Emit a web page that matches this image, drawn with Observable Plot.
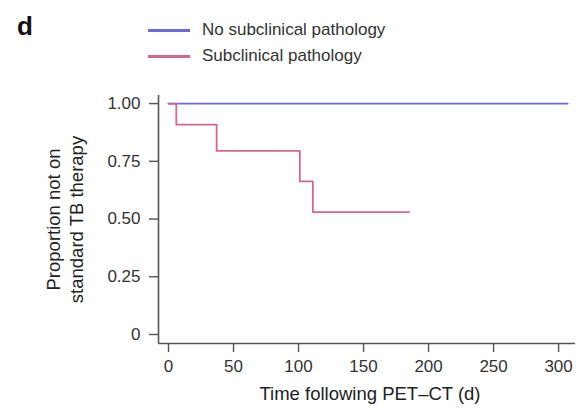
<!DOCTYPE html>
<html>
<head>
<meta charset="utf-8">
<script src="https://cdn.jsdelivr.net/npm/d3@7"></script>
<script src="https://cdn.jsdelivr.net/npm/@observablehq/plot@0.6"></script>
<style>
  body { margin: 0; background: #fff; font-family: "Liberation Sans", Arial, sans-serif; }
  #wrap { position: relative; width: 577px; height: 410px; overflow: hidden; }
  #head { position: relative; height: 88px; }
  #panel { position: absolute; left: 17px; top: 11px; font-size: 26px; font-weight: bold; color: #111; }
  .key { position: absolute; left: 148px; display: flex; align-items: center; font-size: 17px; color: #333; }
  .swatch { display: inline-block; width: 42px; height: 3px; margin-right: 12px; }
  #chart svg { display: block; }
</style>
</head>
<body>
<div id="wrap">
  <div id="head">
    <div id="panel">d</div>
    <div class="key" style="top:20px"><span class="swatch" id="sw0"></span><span id="lab0"></span></div>
    <div class="key" style="top:46px"><span class="swatch" id="sw1"></span><span id="lab1"></span></div>
  </div>
  <div id="chart"></div>
</div>
<script>
// Kaplan–Meier curves: proportion of participants not on standard TB therapy
const groups = ["No subclinical pathology", "Subclinical pathology"];
const groupColors = ["#6a6ade", "#d4688a"];

const noPathologyDays = [0, 307];
const noPathologySurv = [1, 1];

const pathologyDays = [0, 6, 37, 101, 111, 185];
const pathologySurv = [1, 0.909, 0.795, 0.663, 0.53, 0.53];

const xTicks = [0, 50, 100, 150, 200, 250, 300];
const yTicks = [0, 0.25, 0.5, 0.75, 1];
const yTickLabels = ["0", "0.25", "0.50", "0.75", "1.00"];

const xLabel = "Time following PET–CT (d)";
const yLabel = "Proportion not on\nstandard TB therapy";

const curves = [
  ...noPathologyDays.map((t, i) => ({group: groups[0], t, s: noPathologySurv[i]})),
  ...pathologyDays.map((t, i) => ({group: groups[1], t, s: pathologySurv[i]}))
];

// axes sit slightly outside the data range
const xMin = -7.7, xMax = 313;
const yMin = -0.039, yMax = 1.035;
const axisColor = "#555";

groups.forEach((g, i) => {
  document.getElementById("lab" + i).textContent = g;
  document.getElementById("sw" + i).style.background = groupColors[i];
});

const chart = Plot.plot({
  width: 577,
  height: 322,
  marginLeft: 158,
  marginRight: 2,
  marginTop: 7,
  marginBottom: 67,
  style: {fontFamily: "Liberation Sans, Arial, sans-serif", fontSize: "17px", color: "#333", background: "#fff"},
  x: {domain: [xMin, xMax]},
  y: {domain: [yMin, yMax]},
  color: {domain: groups, range: groupColors},
  marks: [
    Plot.ruleX([xMin], {y1: yMin, y2: yMax, stroke: axisColor, strokeWidth: 1.6}),
    Plot.ruleY([yMin], {x1: xMin, x2: xMax, stroke: axisColor, strokeWidth: 1.6}),
    Plot.axisX(xTicks, {anchor: "bottom", tickSize: 9, tickPadding: 7, stroke: axisColor, strokeWidth: 1.4, fill: "#333", label: null, tickFormat: d => String(d)}),
    Plot.axisY(yTicks, {anchor: "left", tickSize: 9, tickPadding: 9, stroke: axisColor, strokeWidth: 1.4, fill: "#333", label: null, tickFormat: d => yTickLabels[yTicks.indexOf(d)]}),
    Plot.line(curves, {x: "t", y: "s", z: "group", stroke: "group", strokeWidth: 1.8, curve: "step-after"}),
    Plot.text([xLabel], {frameAnchor: "bottom", dx: 3, dy: 56, fontSize: 18.5, fill: "#222"}),
    Plot.text([yLabel], {frameAnchor: "left", textAnchor: "middle", lineAnchor: "middle", dx: -94.5, dy: 0, rotate: -90, fontSize: 18.5, lineHeight: 1.24, fill: "#222"})
  ]
});
document.getElementById("chart").append(chart);
</script>
</body>
</html>
